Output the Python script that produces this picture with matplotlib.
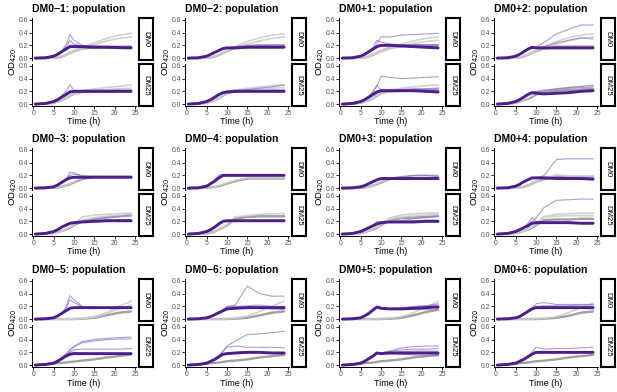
import matplotlib.pyplot as plt

plt.rcParams['font.family'] = ['Liberation Sans', 'DejaVu Sans']

# sampling times (h) shared by all curves
TIME = [0.5, 3, 5, 6, 7, 8, 9, 10, 12, 15, 18, 21, 24]
TITLES = ["DM0−1", "DM0−2", "DM0+1", "DM0+2",
          "DM0−3", "DM0−4", "DM0+3", "DM0+4",
          "DM0−5", "DM0−6", "DM0+5", "DM0+6"]
MEDIA = ["DM0", "DM25"]
X_TICKS = [0, 5, 10, 15, 20, 25]
Y_TICKS = [0.0, 0.2, 0.4, 0.6]

# each facet: gray = ancestor curves (first one darker), purple = replicate
# population curves, dark = main population curve

# DM0-1
dm0m1_dm0 = dict(
    gray=[[0, 0, 0.005, 0.01, 0.025, 0.05, 0.08, 0.11, 0.15, 0.17, 0.17, 0.17, 0.17],
          [0, 0, 0.005, 0.015, 0.03, 0.06, 0.09, 0.12, 0.17, 0.24, 0.31, 0.36, 0.39],
          [0, 0, 0.005, 0.015, 0.03, 0.05, 0.08, 0.11, 0.15, 0.21, 0.27, 0.31, 0.33]],
    purple=[[0, 0.005, 0.03, 0.07, 0.12, 0.20, 0.37, 0.28, 0.20, 0.18, 0.18, 0.18, 0.18],
            [0, 0.005, 0.03, 0.06, 0.11, 0.17, 0.28, 0.22, 0.19, 0.19, 0.18, 0.18, 0.17],
            [0, 0.005, 0.03, 0.06, 0.10, 0.15, 0.20, 0.20, 0.19, 0.19, 0.19, 0.19, 0.19]],
    dark=[0, 0.005, 0.03, 0.06, 0.10, 0.14, 0.18, 0.18, 0.18, 0.17, 0.17, 0.165, 0.16])
dm0m1_dm25 = dict(
    gray=[[0, 0.005, 0.02, 0.04, 0.06, 0.09, 0.13, 0.16, 0.19, 0.20, 0.20, 0.21, 0.21],
          [0, 0.005, 0.02, 0.04, 0.07, 0.10, 0.14, 0.17, 0.21, 0.24, 0.26, 0.28, 0.30],
          [0, 0.005, 0.02, 0.04, 0.06, 0.09, 0.13, 0.16, 0.20, 0.22, 0.23, 0.24, 0.25]],
    purple=[[0, 0.01, 0.04, 0.08, 0.13, 0.20, 0.30, 0.22, 0.21, 0.21, 0.21, 0.21, 0.21],
            [0, 0.01, 0.04, 0.07, 0.12, 0.17, 0.21, 0.21, 0.22, 0.22, 0.22, 0.22, 0.22]],
    dark=[0, 0.01, 0.04, 0.07, 0.11, 0.15, 0.19, 0.20, 0.20, 0.20, 0.20, 0.20, 0.20])

# DM0-2
dm0m2_dm0 = dict(
    gray=[[0, 0, 0.005, 0.01, 0.025, 0.05, 0.08, 0.11, 0.16, 0.19, 0.20, 0.20, 0.20],
          [0, 0, 0.005, 0.015, 0.03, 0.06, 0.09, 0.12, 0.18, 0.26, 0.32, 0.36, 0.38],
          [0, 0, 0.005, 0.015, 0.03, 0.05, 0.08, 0.11, 0.16, 0.22, 0.27, 0.31, 0.33]],
    purple=[[0, 0.005, 0.03, 0.06, 0.09, 0.12, 0.15, 0.16, 0.18, 0.20, 0.20, 0.20, 0.20],
            [0, 0.005, 0.03, 0.06, 0.09, 0.12, 0.15, 0.16, 0.17, 0.19, 0.19, 0.19, 0.18]],
    dark=[0, 0.005, 0.03, 0.06, 0.09, 0.12, 0.15, 0.16, 0.16, 0.17, 0.17, 0.17, 0.17])
dm0m2_dm25 = dict(
    gray=[[0, 0.005, 0.02, 0.04, 0.06, 0.09, 0.13, 0.17, 0.20, 0.21, 0.21, 0.21, 0.21],
          [0, 0.005, 0.02, 0.04, 0.07, 0.10, 0.14, 0.18, 0.22, 0.25, 0.27, 0.29, 0.30],
          [0, 0.005, 0.02, 0.04, 0.06, 0.09, 0.13, 0.17, 0.21, 0.23, 0.24, 0.25, 0.26]],
    purple=[[0, 0.01, 0.04, 0.07, 0.11, 0.15, 0.18, 0.19, 0.20, 0.23, 0.25, 0.27, 0.30],
            [0, 0.01, 0.04, 0.07, 0.11, 0.15, 0.18, 0.21, 0.22, 0.22, 0.22, 0.22, 0.22]],
    dark=[0, 0.01, 0.04, 0.07, 0.11, 0.15, 0.18, 0.19, 0.20, 0.20, 0.20, 0.20, 0.20])

# DM0+1
dm0p1_dm0 = dict(
    gray=[[0, 0, 0.005, 0.01, 0.025, 0.05, 0.08, 0.11, 0.16, 0.19, 0.20, 0.20, 0.20],
          [0, 0, 0.005, 0.015, 0.03, 0.05, 0.08, 0.11, 0.16, 0.22, 0.27, 0.31, 0.33],
          [0, 0, 0.005, 0.015, 0.03, 0.05, 0.07, 0.10, 0.14, 0.19, 0.23, 0.26, 0.28]],
    purple=[[0, 0.005, 0.03, 0.06, 0.10, 0.15, 0.22, 0.34, 0.33, 0.36, 0.37, 0.38, 0.39],
            [0, 0.005, 0.03, 0.06, 0.10, 0.16, 0.28, 0.25, 0.22, 0.21, 0.21, 0.20, 0.20],
            [0, 0.005, 0.03, 0.06, 0.10, 0.14, 0.19, 0.21, 0.22, 0.21, 0.21, 0.21, 0.21]],
    dark=[0, 0.005, 0.03, 0.06, 0.10, 0.14, 0.18, 0.20, 0.20, 0.19, 0.18, 0.17, 0.16])
dm0p1_dm25 = dict(
    gray=[[0, 0.005, 0.02, 0.04, 0.06, 0.09, 0.13, 0.17, 0.20, 0.21, 0.21, 0.21, 0.21],
          [0, 0.005, 0.02, 0.04, 0.07, 0.10, 0.14, 0.18, 0.22, 0.25, 0.27, 0.29, 0.30],
          [0, 0.005, 0.02, 0.04, 0.06, 0.09, 0.13, 0.17, 0.20, 0.22, 0.23, 0.24, 0.25]],
    purple=[[0, 0.01, 0.04, 0.08, 0.12, 0.18, 0.28, 0.44, 0.42, 0.40, 0.41, 0.42, 0.43],
            [0, 0.01, 0.04, 0.07, 0.12, 0.20, 0.30, 0.22, 0.22, 0.23, 0.24, 0.24, 0.25],
            [0, 0.01, 0.04, 0.07, 0.11, 0.16, 0.20, 0.21, 0.22, 0.22, 0.23, 0.23, 0.23]],
    dark=[0, 0.01, 0.04, 0.07, 0.11, 0.15, 0.19, 0.21, 0.21, 0.21, 0.21, 0.20, 0.19])

# DM0+2
dm0p2_dm0 = dict(
    gray=[[0, 0, 0.005, 0.01, 0.025, 0.05, 0.08, 0.11, 0.15, 0.18, 0.18, 0.18, 0.18],
          [0, 0, 0.005, 0.015, 0.03, 0.06, 0.09, 0.12, 0.18, 0.26, 0.32, 0.36, 0.38],
          [0, 0, 0.005, 0.015, 0.03, 0.05, 0.08, 0.11, 0.16, 0.22, 0.27, 0.31, 0.33]],
    purple=[[0, 0.005, 0.03, 0.06, 0.10, 0.14, 0.16, 0.17, 0.25, 0.38, 0.45, 0.52, 0.52],
            [0, 0.005, 0.03, 0.06, 0.10, 0.14, 0.16, 0.16, 0.18, 0.24, 0.28, 0.32, 0.30]],
    dark=[0, 0.005, 0.03, 0.06, 0.10, 0.14, 0.17, 0.16, 0.16, 0.16, 0.16, 0.16, 0.16])
dm0p2_dm25 = dict(
    gray=[[0, 0.005, 0.02, 0.04, 0.06, 0.08, 0.11, 0.15, 0.19, 0.21, 0.22, 0.23, 0.24],
          [0, 0.005, 0.02, 0.04, 0.06, 0.09, 0.13, 0.17, 0.21, 0.24, 0.26, 0.27, 0.28]],
    purple=[[0, 0.01, 0.04, 0.07, 0.11, 0.15, 0.18, 0.20, 0.22, 0.24, 0.26, 0.28, 0.30],
            [0, 0.01, 0.04, 0.07, 0.11, 0.15, 0.18, 0.19, 0.21, 0.23, 0.25, 0.26, 0.27]],
    dark=[0, 0.01, 0.04, 0.07, 0.11, 0.15, 0.18, 0.17, 0.16, 0.17, 0.18, 0.20, 0.21])

# DM0-3
dm0m3_dm0 = dict(
    gray=[[0, 0, 0.005, 0.01, 0.02, 0.04, 0.06, 0.09, 0.14, 0.18, 0.18, 0.18, 0.18],
          [0, 0, 0.005, 0.01, 0.02, 0.04, 0.07, 0.10, 0.16, 0.20, 0.18, 0.17, 0.17]],
    purple=[[0, 0.005, 0.02, 0.05, 0.09, 0.14, 0.25, 0.24, 0.18, 0.18, 0.17, 0.17, 0.17],
            [0, 0.005, 0.02, 0.05, 0.09, 0.13, 0.20, 0.22, 0.20, 0.18, 0.18, 0.18, 0.18]],
    dark=[0, 0.005, 0.02, 0.05, 0.09, 0.13, 0.16, 0.17, 0.17, 0.17, 0.17, 0.17, 0.17])
dm0m3_dm25 = dict(
    gray=[[0, 0.005, 0.015, 0.03, 0.05, 0.07, 0.10, 0.14, 0.20, 0.24, 0.26, 0.28, 0.29],
          [0, 0.005, 0.015, 0.03, 0.05, 0.08, 0.11, 0.16, 0.27, 0.30, 0.31, 0.32, 0.33],
          [0, 0.005, 0.015, 0.03, 0.05, 0.08, 0.11, 0.15, 0.22, 0.26, 0.28, 0.29, 0.30]],
    purple=[[0, 0.01, 0.04, 0.07, 0.11, 0.14, 0.17, 0.18, 0.20, 0.23, 0.26, 0.28, 0.30],
            [0, 0.01, 0.04, 0.07, 0.11, 0.14, 0.17, 0.18, 0.19, 0.21, 0.22, 0.23, 0.23]],
    dark=[0, 0.01, 0.04, 0.07, 0.11, 0.14, 0.17, 0.18, 0.19, 0.20, 0.21, 0.21, 0.21])

# DM0-4
dm0m4_dm0 = dict(
    gray=[[0, 0, 0.005, 0.01, 0.02, 0.03, 0.05, 0.07, 0.11, 0.15, 0.15, 0.15, 0.15],
          [0, 0, 0.005, 0.01, 0.02, 0.04, 0.06, 0.08, 0.12, 0.16, 0.16, 0.16, 0.16]],
    purple=[[0, 0.005, 0.03, 0.08, 0.13, 0.21, 0.20, 0.20, 0.20, 0.20, 0.20, 0.20, 0.20],
            [0, 0.005, 0.03, 0.07, 0.11, 0.17, 0.20, 0.20, 0.20, 0.20, 0.20, 0.20, 0.20]],
    dark=[0, 0.005, 0.03, 0.07, 0.11, 0.16, 0.20, 0.20, 0.20, 0.20, 0.20, 0.20, 0.20])
dm0m4_dm25 = dict(
    gray=[[0, 0.005, 0.01, 0.02, 0.04, 0.07, 0.10, 0.14, 0.24, 0.27, 0.28, 0.28, 0.28],
          [0, 0.005, 0.01, 0.02, 0.04, 0.07, 0.10, 0.15, 0.27, 0.29, 0.31, 0.32, 0.32]],
    purple=[[0, 0.01, 0.04, 0.08, 0.12, 0.17, 0.21, 0.21, 0.21, 0.21, 0.21, 0.21, 0.21]],
    dark=[0, 0.01, 0.04, 0.07, 0.11, 0.16, 0.20, 0.21, 0.21, 0.21, 0.21, 0.21, 0.21])

# DM0+3
dm0p3_dm0 = dict(
    gray=[[0, 0, 0.005, 0.01, 0.02, 0.04, 0.06, 0.09, 0.14, 0.16, 0.16, 0.16, 0.16],
          [0, 0, 0.005, 0.01, 0.02, 0.04, 0.07, 0.10, 0.15, 0.18, 0.19, 0.20, 0.20]],
    purple=[[0, 0.005, 0.02, 0.04, 0.07, 0.10, 0.13, 0.15, 0.16, 0.17, 0.20, 0.20, 0.19],
            [0, 0.005, 0.02, 0.04, 0.07, 0.10, 0.13, 0.15, 0.16, 0.18, 0.20, 0.20, 0.18]],
    dark=[0, 0.005, 0.02, 0.04, 0.07, 0.10, 0.13, 0.15, 0.15, 0.15, 0.15, 0.15, 0.15])
dm0p3_dm25 = dict(
    gray=[[0, 0.005, 0.015, 0.03, 0.05, 0.07, 0.10, 0.14, 0.22, 0.25, 0.26, 0.27, 0.28],
          [0, 0.005, 0.015, 0.03, 0.05, 0.08, 0.11, 0.16, 0.25, 0.30, 0.32, 0.33, 0.33],
          [0, 0.005, 0.015, 0.03, 0.05, 0.08, 0.11, 0.15, 0.23, 0.27, 0.29, 0.30, 0.31]],
    purple=[[0, 0.01, 0.04, 0.07, 0.10, 0.14, 0.20, 0.18, 0.19, 0.21, 0.24, 0.26, 0.29],
            [0, 0.01, 0.04, 0.07, 0.10, 0.13, 0.16, 0.18, 0.19, 0.20, 0.21, 0.22, 0.22]],
    dark=[0, 0.01, 0.04, 0.07, 0.10, 0.13, 0.16, 0.18, 0.19, 0.19, 0.19, 0.20, 0.20])

# DM0+4
dm0p4_dm0 = dict(
    gray=[[0, 0, 0.005, 0.01, 0.02, 0.04, 0.07, 0.10, 0.14, 0.18, 0.18, 0.18, 0.18],
          [0, 0, 0.005, 0.01, 0.02, 0.04, 0.07, 0.10, 0.15, 0.21, 0.19, 0.19, 0.19]],
    purple=[[0, 0.005, 0.03, 0.06, 0.10, 0.13, 0.15, 0.15, 0.20, 0.45, 0.46, 0.46, 0.46],
            [0, 0.005, 0.03, 0.06, 0.10, 0.13, 0.16, 0.17, 0.17, 0.17, 0.16, 0.16, 0.16]],
    dark=[0, 0.005, 0.03, 0.06, 0.10, 0.13, 0.16, 0.16, 0.16, 0.15, 0.15, 0.15, 0.14])
dm0p4_dm25 = dict(
    gray=[[0, 0.005, 0.015, 0.03, 0.05, 0.07, 0.10, 0.14, 0.22, 0.23, 0.23, 0.24, 0.24],
          [0, 0.005, 0.015, 0.03, 0.05, 0.08, 0.11, 0.16, 0.27, 0.28, 0.29, 0.29, 0.29],
          [0, 0.005, 0.015, 0.03, 0.05, 0.08, 0.11, 0.16, 0.28, 0.31, 0.32, 0.33, 0.33]],
    purple=[[0, 0.01, 0.04, 0.07, 0.10, 0.15, 0.20, 0.25, 0.42, 0.53, 0.54, 0.55, 0.55],
            [0, 0.01, 0.04, 0.07, 0.11, 0.17, 0.26, 0.20, 0.19, 0.18, 0.18, 0.18, 0.18]],
    dark=[0, 0.01, 0.04, 0.07, 0.10, 0.13, 0.17, 0.18, 0.18, 0.18, 0.18, 0.17, 0.17])

# DM0-5
dm0m5_dm0 = dict(
    gray=[[0, 0, 0, 0, 0, 0, 0, 0.002, 0.005, 0.02, 0.06, 0.10, 0.12],
          [0, 0, 0, 0, 0, 0, 0, 0.003, 0.01, 0.04, 0.10, 0.20, 0.28],
          [0, 0, 0, 0, 0, 0, 0, 0.003, 0.01, 0.03, 0.09, 0.16, 0.22]],
    purple=[[0, 0.005, 0.02, 0.05, 0.09, 0.18, 0.37, 0.30, 0.20, 0.18, 0.18, 0.18, 0.18],
            [0, 0.005, 0.02, 0.05, 0.09, 0.16, 0.30, 0.26, 0.19, 0.18, 0.18, 0.18, 0.18]],
    dark=[0, 0.005, 0.02, 0.05, 0.09, 0.13, 0.17, 0.18, 0.18, 0.18, 0.18, 0.18, 0.18])
dm0m5_dm25 = dict(
    gray=[[0, 0.015, 0.025, 0.03, 0.035, 0.04, 0.05, 0.055, 0.07, 0.09, 0.12, 0.14, 0.17]],
    purple=[[0, 0.01, 0.04, 0.08, 0.12, 0.17, 0.24, 0.30, 0.37, 0.40, 0.42, 0.43, 0.44],
            [0, 0.01, 0.04, 0.08, 0.12, 0.17, 0.23, 0.28, 0.35, 0.38, 0.40, 0.41, 0.41],
            [0, 0.01, 0.04, 0.07, 0.11, 0.16, 0.20, 0.24, 0.25, 0.25, 0.25, 0.25, 0.26],
            [0, 0.01, 0.03, 0.06, 0.10, 0.14, 0.18, 0.20, 0.19, 0.18, 0.17, 0.17, 0.16]],
    dark=[0, 0.01, 0.03, 0.06, 0.10, 0.14, 0.17, 0.18, 0.18, 0.18, 0.18, 0.18, 0.18])

# DM0-6
dm0m6_dm0 = dict(
    gray=[[0, 0, 0, 0, 0, 0, 0, 0.002, 0.005, 0.02, 0.06, 0.10, 0.12],
          [0, 0, 0, 0, 0, 0, 0, 0.003, 0.01, 0.05, 0.12, 0.20, 0.28]],
    purple=[[0, 0.005, 0.02, 0.04, 0.07, 0.10, 0.14, 0.20, 0.22, 0.52, 0.40, 0.36, 0.36],
            [0, 0.005, 0.02, 0.04, 0.07, 0.10, 0.14, 0.18, 0.20, 0.21, 0.22, 0.20, 0.20],
            [0, 0.005, 0.02, 0.04, 0.07, 0.11, 0.15, 0.20, 0.19, 0.19, 0.18, 0.16, 0.15]],
    dark=[0, 0.005, 0.02, 0.04, 0.07, 0.10, 0.13, 0.16, 0.17, 0.18, 0.18, 0.18, 0.18])
dm0m6_dm25 = dict(
    gray=[[0, 0.01, 0.02, 0.03, 0.035, 0.04, 0.05, 0.06, 0.07, 0.09, 0.12, 0.14, 0.16]],
    purple=[[0, 0.01, 0.03, 0.06, 0.10, 0.15, 0.22, 0.30, 0.38, 0.48, 0.49, 0.51, 0.53],
            [0, 0.01, 0.03, 0.06, 0.10, 0.15, 0.21, 0.28, 0.30, 0.28, 0.28, 0.28, 0.27],
            [0, 0.01, 0.03, 0.06, 0.09, 0.13, 0.17, 0.19, 0.20, 0.21, 0.21, 0.20, 0.20]],
    dark=[0, 0.01, 0.03, 0.06, 0.09, 0.13, 0.17, 0.18, 0.19, 0.20, 0.20, 0.19, 0.19])

# DM0+5
dm0p5_dm0 = dict(
    gray=[[0, 0, 0, 0, 0, 0, 0, 0.002, 0.005, 0.02, 0.06, 0.11, 0.15],
          [0, 0, 0, 0, 0, 0, 0, 0.003, 0.01, 0.04, 0.10, 0.19, 0.28]],
    purple=[[0, 0.005, 0.02, 0.05, 0.09, 0.14, 0.20, 0.18, 0.17, 0.18, 0.20, 0.21, 0.22],
            [0, 0.005, 0.02, 0.05, 0.09, 0.14, 0.19, 0.17, 0.16, 0.15, 0.15, 0.15, 0.14],
            [0, 0.005, 0.02, 0.05, 0.09, 0.14, 0.19, 0.17, 0.16, 0.17, 0.19, 0.21, 0.24]],
    dark=[0, 0.005, 0.02, 0.05, 0.09, 0.14, 0.19, 0.17, 0.16, 0.16, 0.17, 0.18, 0.19])
dm0p5_dm25 = dict(
    gray=[[0, 0.01, 0.02, 0.03, 0.035, 0.04, 0.05, 0.06, 0.07, 0.09, 0.12, 0.14, 0.16]],
    purple=[[0, 0.01, 0.03, 0.06, 0.10, 0.14, 0.19, 0.19, 0.22, 0.27, 0.29, 0.30, 0.30],
            [0, 0.01, 0.03, 0.06, 0.10, 0.14, 0.19, 0.19, 0.21, 0.24, 0.25, 0.25, 0.26],
            [0, 0.01, 0.03, 0.06, 0.10, 0.14, 0.19, 0.18, 0.18, 0.17, 0.16, 0.15, 0.15],
            [0, 0.01, 0.03, 0.06, 0.10, 0.14, 0.19, 0.19, 0.20, 0.21, 0.22, 0.22, 0.22]],
    dark=[0, 0.01, 0.03, 0.06, 0.10, 0.14, 0.19, 0.18, 0.19, 0.19, 0.19, 0.19, 0.19])

# DM0+6
dm0p6_dm0 = dict(
    gray=[[0, 0, 0, 0, 0, 0, 0, 0.002, 0.005, 0.02, 0.05, 0.10, 0.12],
          [0, 0, 0, 0, 0, 0, 0, 0.003, 0.01, 0.04, 0.10, 0.18, 0.25]],
    purple=[[0, 0.005, 0.02, 0.04, 0.08, 0.12, 0.17, 0.24, 0.26, 0.23, 0.23, 0.23, 0.23],
            [0, 0.005, 0.02, 0.04, 0.08, 0.12, 0.16, 0.20, 0.21, 0.21, 0.21, 0.22, 0.22],
            [0, 0.005, 0.02, 0.04, 0.08, 0.12, 0.16, 0.18, 0.19, 0.19, 0.18, 0.17, 0.16]],
    dark=[0, 0.005, 0.02, 0.04, 0.08, 0.12, 0.16, 0.18, 0.18, 0.18, 0.18, 0.18, 0.18])
dm0p6_dm25 = dict(
    gray=[[0, 0.01, 0.02, 0.03, 0.035, 0.04, 0.05, 0.06, 0.07, 0.09, 0.12, 0.14, 0.16]],
    purple=[[0, 0.01, 0.03, 0.06, 0.09, 0.14, 0.20, 0.28, 0.25, 0.26, 0.26, 0.27, 0.28],
            [0, 0.01, 0.03, 0.06, 0.09, 0.13, 0.17, 0.20, 0.21, 0.21, 0.21, 0.21, 0.21]],
    dark=[0, 0.01, 0.03, 0.06, 0.09, 0.13, 0.17, 0.20, 0.20, 0.20, 0.20, 0.20, 0.20])

PANELS = [(dm0m1_dm0, dm0m1_dm25), (dm0m2_dm0, dm0m2_dm25),
          (dm0p1_dm0, dm0p1_dm25), (dm0p2_dm0, dm0p2_dm25),
          (dm0m3_dm0, dm0m3_dm25), (dm0m4_dm0, dm0m4_dm25),
          (dm0p3_dm0, dm0p3_dm25), (dm0p4_dm0, dm0p4_dm25),
          (dm0m5_dm0, dm0m5_dm25), (dm0m6_dm0, dm0m6_dm25),
          (dm0p5_dm0, dm0p5_dm25), (dm0p6_dm0, dm0p6_dm25)]

# layout in pixels
W, H = 617, 392
COL_X = [32, 185, 339, 494]
ROW_Y = [18, 148, 279]
PW, FH, GAP = 104, 42, 4
TICK_COLOR = '#555555'


def px_axes(fig, x, y, w, h):
    return fig.add_axes([x / W, 1 - (y + h) / H, w / W, h / H])


def draw_facet(ax, facet):
    for k, g in enumerate(facet["gray"]):
        if k == 0:
            ax.plot(TIME, g, color='#a0a0a0', lw=1.7, solid_capstyle='round')
        else:
            ax.plot(TIME, g, color='#cdcdcd', lw=1.2, alpha=0.9)
    for p in facet["purple"]:
        ax.plot(TIME, p, color='#9479c6', lw=0.8, alpha=0.75)
    ax.plot(TIME, facet["dark"], color='#4d1e8a', lw=2.1, solid_capstyle='round')


fig = plt.figure(figsize=(W / 100, H / 100), dpi=100)
fig.patch.set_facecolor('w')

for i, (title, facets) in enumerate(zip(TITLES, PANELS)):
    r, c = divmod(i, 4)
    x0, y0 = COL_X[c], ROW_Y[r]
    for j, (medium, facet) in enumerate(zip(MEDIA, facets)):
        fy = y0 + j * (FH + GAP)
        ax = px_axes(fig, x0, fy, PW, FH)
        draw_facet(ax, facet)
        ax.set_xlim(-0.3, 25.2)
        ax.set_ylim(-0.03, 0.63)
        ax.set_yticks(Y_TICKS)
        ax.set_yticklabels([f"{v:.1f}" for v in Y_TICKS])
        ax.set_xticks(X_TICKS)
        for s in ['top', 'right']:
            ax.spines[s].set_visible(False)
        ax.spines['left'].set_linewidth(0.7)
        ax.spines['bottom'].set_linewidth(0.7)
        ax.tick_params(length=2, width=0.6, pad=1, labelsize=4.9,
                       labelcolor=TICK_COLOR)
        if j == 0:
            ax.spines['bottom'].set_visible(False)
            ax.tick_params(axis='x', bottom=False, labelbottom=False)
        # strip on the right
        sax = px_axes(fig, x0 + PW + 3, fy, 14, FH)
        sax.set_xticks([])
        sax.set_yticks([])
        for s in sax.spines.values():
            s.set_linewidth(1.5)
        sax.text(0.5, 0.5, medium, rotation=-90, ha='center', va='center',
                 fontsize=5.6, transform=sax.transAxes)
    fig.text(x0 / W, 1 - (y0 - 9) / H, f"{title}: population", fontsize=7.5,
             fontweight='bold', ha='left', va='center')
    fig.text((x0 + PW / 2) / W, 1 - (y0 + 2 * FH + GAP + 16) / H, "Time (h)",
             fontsize=6.5, ha='center', va='center')
    fig.text((x0 - 19) / W, 1 - (y0 + FH + GAP / 2) / H, "OD$_{420}$",
             fontsize=6.8, ha='center', va='center', rotation=90)

fig.savefig('out.png', dpi=100)
